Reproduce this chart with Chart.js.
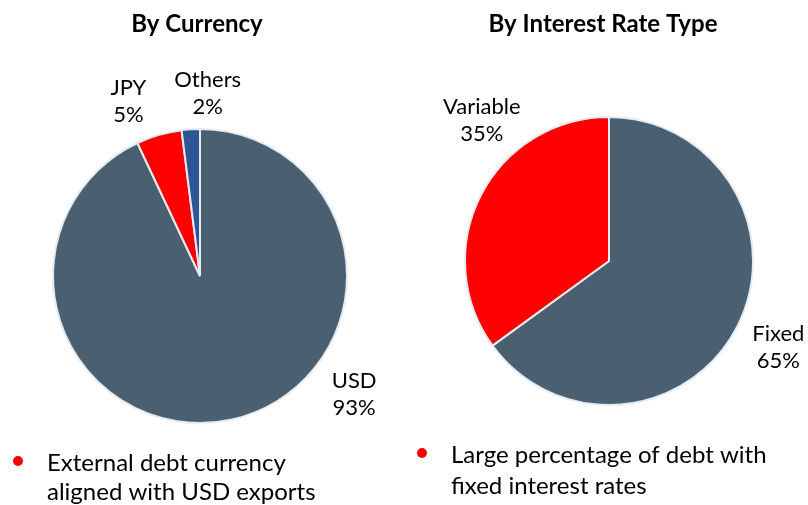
<!DOCTYPE html>
<html>
<head>
<meta charset="utf-8">
<script src="https://cdn.jsdelivr.net/npm/chart.js@4.4.0/dist/chart.umd.min.js"></script>
<style>
  body { margin: 0; background: #fff; }
  #wrap { position: relative; width: 808px; height: 505px; }
  .half { position: absolute; top: 0; width: 404px; height: 505px; }
</style>
</head>
<body>
<div id="wrap">
  <div class="half" style="left:0"><canvas id="currency" width="404" height="505"></canvas></div>
  <div class="half" style="left:404px"><canvas id="rate" width="404" height="505"></canvas></div>
</div>
<script>
'use strict';

// data
const currencyLabels = ['USD', 'JPY', 'Others'];
const currencyValues = [93, 5, 2];
const rateLabels = ['Fixed', 'Variable'];
const rateValues = [65, 35];

const FONT = 'Lato, "Open Sans", sans-serif';
const SLATE = '#4a6070';
const RED = '#ff0000';
const BLUE = '#2f5597';

// label placement: extra rotation (deg, clockwise) and distance as a factor of radius
const currencyLabelShift = [-40, -6, 6];
const currencyLabelDist = [1.32, 1.29, 1.25];
const rateLabelShift = [0, 21];
const rateLabelDist = [1.32, 1.32];

const sliceLabels = {
  id: 'sliceLabels',
  afterDatasetsDraw(chart, args, opts) {
    var ctx = chart.ctx,
      meta = chart.getDatasetMeta(0),
      labels = chart.data.labels,
      values = chart.data.datasets[0].data;
    ctx.save();
    ctx.font = '22px ' + FONT;
    ctx.fillStyle = '#000';
    ctx.textAlign = 'center';
    ctx.textBaseline = 'middle';
    meta.data.forEach(function (arc, i) {
      var mid = (arc.startAngle + arc.endAngle) / 2 + opts.shift[i] * Math.PI / 180,
        dist = arc.outerRadius * opts.dist[i],
        x = arc.x + Math.cos(mid) * dist,
        y = arc.y + Math.sin(mid) * dist;
      ctx.fillText(labels[i], x, y - 13);
      ctx.fillText(values[i] + '%', x, y + 14);
    });
    ctx.restore();
  }
};

const panelText = {
  id: 'panelText',
  afterDraw(chart, args, opts) {
    var ctx = chart.ctx;
    ctx.save();
    ctx.fillStyle = '#000';
    ctx.textBaseline = 'middle';
    ctx.textAlign = 'center';
    ctx.font = 'bold 24px ' + FONT;
    ctx.fillText(opts.title, opts.titleX, 24);

    ctx.fillStyle = RED;
    ctx.beginPath();
    ctx.arc(opts.bulletX, opts.bulletY, 5, 0, Math.PI * 2);
    ctx.fill();

    ctx.fillStyle = '#000';
    ctx.textAlign = 'left';
    ctx.font = '24px ' + FONT;
    opts.lines.forEach(function (line, i) {
      ctx.fillText(line, opts.bulletX + 29, opts.bulletY + 2 + i * opts.lineGap);
    });
    ctx.restore();
  }
};

function makePie(id, labels, values, colors, padding, shift, dist, text) {
  return new Chart(document.getElementById(id), {
    type: 'pie',
    data: {
      labels: labels,
      datasets: [{
        data: values,
        backgroundColor: colors,
        borderColor: '#e4ebf2',
        borderWidth: 2
      }]
    },
    options: {
      responsive: false,
      animation: false,
      devicePixelRatio: 1,
      layout: { padding: padding },
      plugins: {
        legend: { display: false },
        tooltip: { enabled: false },
        sliceLabels: { shift: shift, dist: dist },
        panelText: text
      }
    },
    plugins: [sliceLabels, panelText]
  });
}

makePie('currency', currencyLabels, currencyValues, [SLATE, RED, BLUE],
  { left: 52, right: 56, top: 128, bottom: 81 },
  currencyLabelShift, currencyLabelDist,
  { title: 'By Currency', titleX: 197, bulletX: 18, bulletY: 461, lineGap: 29,
    lines: ['External debt currency', 'aligned with USD exports'] });

makePie('rate', rateLabels, rateValues, [SLATE, RED],
  { left: 60, right: 54, top: 116, bottom: 99 },
  rateLabelShift, rateLabelDist,
  { title: 'By Interest Rate Type', titleX: 199, bulletX: 18, bulletY: 453, lineGap: 31,
    lines: ['Large percentage of debt with', 'fixed interest rates'] });
</script>
</body>
</html>
